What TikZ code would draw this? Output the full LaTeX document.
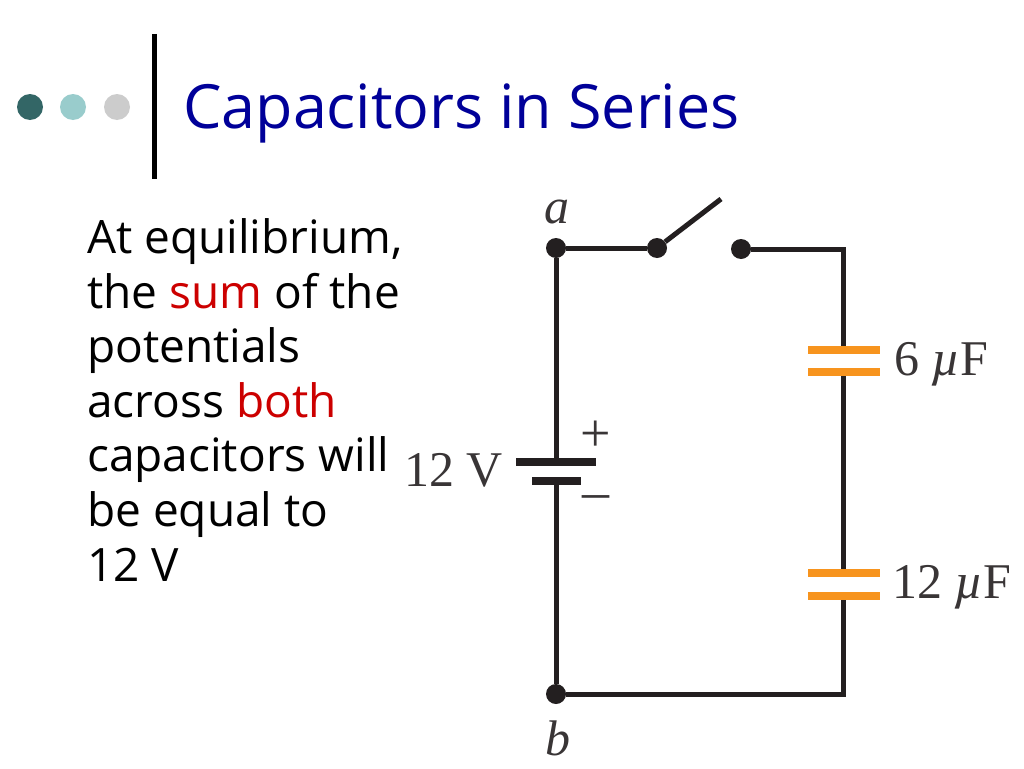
\documentclass[tikz,border=0pt]{standalone}
\usepackage{fontspec}
\setmainfont{Liberation Serif}
\newfontfamily\slidefont{Open Sans}
\usetikzlibrary{calc}
\definecolor{wirecol}{HTML}{231F20}
\definecolor{capcol}{HTML}{F7941E}
\definecolor{titlecol}{HTML}{000099}
\definecolor{sumcol}{HTML}{CC0000}
\tikzset{
	wire/.style={draw=wirecol,line width=5pt},
	dot/.style={circle,fill=wirecol,inner sep=0pt,minimum size=20pt},
	capplate/.style={rectangle,fill=capcol,inner sep=0pt,minimum width=72pt,minimum height=8pt},
	batplate/.style={rectangle,fill=wirecol,inner sep=0pt,minimum height=8pt},
	val/.style={anchor=base west,inner sep=0pt,text=wirecol!90,font=\fontsize{50}{50}\selectfont},
	bullet/.style={circle,inner sep=0pt,minimum size=26pt}
}

\begin{document}
\begin{tikzpicture}[x=1pt,y=-1pt]
		\useasboundingbox (0,0) rectangle (1024,768);

		% Header
		\node[bullet,fill={rgb,255:red,51;green,102;blue,102}] (dotone) at (30,107) {};
		\node[bullet,fill={rgb,255:red,153;green,204;blue,204}] (dottwo) at (73,107) {};
		\node[bullet,fill={rgb,255:red,204;green,204;blue,204}] (dotthree) at (117,107) {};
		\coordinate (bartop) at (154,34);
		\coordinate (barbot) at (154,179);
		\draw[line width=5pt] (bartop) -- (barbot);
		\node[anchor=base west,inner sep=0pt,text=titlecol,font=\slidefont\fontsize{61}{61}\selectfont] (title) at (183,128) {Capacitors in Series};

		% Text
		\node[anchor=base west,inner sep=0pt,align=left,font=\slidefont\fontsize{46}{54.6}\selectfont] (body) at (87,581) {At equilibrium,\\the \textcolor{sumcol}{sum} of the\\potentials\\across \textcolor{sumcol}{both}\\capacitors will\\be equal to\\12 V};

		% Vertices
		\node[dot] (a) at (556,248) {};
		\node[dot] (b) at (556,694) {};
		\node[dot] (swl) at (657,248) {};
		\node[dot] (swr) at (741,249) {};
		\coordinate (tip) at (721,199);
		\coordinate (tr) at (843.5,249);
		\coordinate (br) at (843.5,694);

		% Plates
		\node[batplate,minimum width=80pt] (batlong) at (556,462) {};
		\node[batplate,minimum width=49pt] (batshort) at (556,481) {};
		\node[capplate] (sixtop) at (843.5,350) {};
		\node[capplate] (sixbot) at (843.5,372) {};
		\node[capplate] (twtop) at (843.5,573) {};
		\node[capplate] (twbot) at (843.5,596) {};

		% Edges
		\draw[wire] (a) -- (swl);
		\draw[wire] (swl) -- (tip);
		\draw[wire,line join=miter] (swr) -- (tr) -- (sixtop);
		\draw[wire] (sixbot) -- (twtop);
		\draw[wire,line join=miter] (twbot) -- (br) -- (b);
		\draw[wire] (a) -- (batlong);
		\draw[wire] (batshort) -- (b);

		% Labels
		\node[val,font=\itshape\fontsize{50}{50}\selectfont] (alabel) at (544,223) {a};
		\node[val,font=\itshape\fontsize{50}{50}\selectfont] (blabel) at (545,755) {b};
		\node[val] (vlabel) at (404,486) {12 V};
		\node[val] (sixlabel) at (894,375) {6 \textit{µ}F};
		\node[val] (twlabel) at (892,598) {12 \textit{µ}F};
		\node[val,font=\fontsize{54}{54}\selectfont,anchor=base] (plus) at (595.5,451) {+};
		\node[val,font=\fontsize{54}{54}\selectfont,anchor=base] (minus) at (595.5,509) {–};
	\end{tikzpicture}
\end{document}
